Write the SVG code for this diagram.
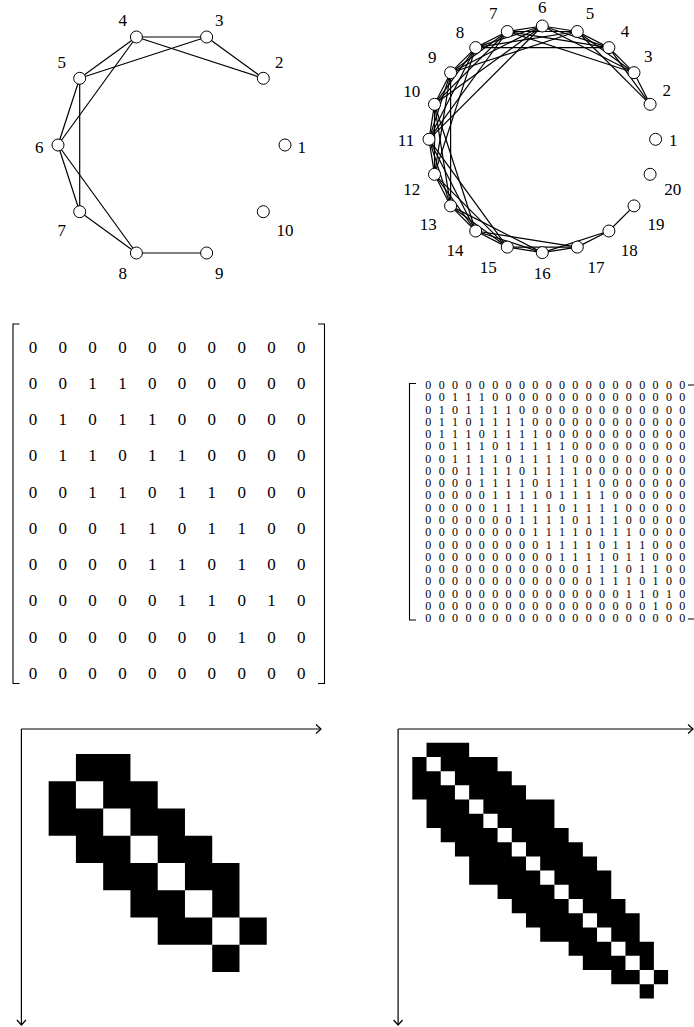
<svg xmlns="http://www.w3.org/2000/svg" width="694" height="1027" viewBox="0 0 694 1027">
<defs>
<style>
.e line{stroke:#000;stroke-width:1.2;fill:none}
.n circle{fill:#fff;stroke:#000;stroke-width:1}
.lbl,.mA,.mB{font-family:"Liberation Serif","DejaVu Serif","Times New Roman",serif;fill:#000}
.lbl{font-size:17px;text-anchor:middle}
.mA{font-size:17px;letter-spacing:8.53px}
.mB{font-size:12px;letter-spacing:2.185px}
.br{fill:none;stroke:#000;stroke-width:1.1}
.ax{stroke:#000;stroke-width:1.2;fill:none;marker-end:url(#arr)}
.px{fill:#000;fill-rule:evenodd;stroke:none}
</style>
<marker id="arr" markerUnits="userSpaceOnUse" markerWidth="12" markerHeight="12" viewBox="-6 -6 12 12" refX="0" refY="0" orient="auto" overflow="visible">
<path d="M-5,-4.5 L0,0 L-5,4.5" fill="none" stroke="#000" stroke-width="1.2"/>
</marker>
</defs>
<rect width="694" height="1027" fill="#fff"/>

<!-- Left graph connectors -->
<g id="edgesA" class="e">
<line x1="263.3" y1="78.3" x2="206.6" y2="37"/>
<line x1="263.3" y1="78.3" x2="136.4" y2="37"/>
<line x1="206.6" y1="37" x2="136.4" y2="37"/>
<line x1="206.6" y1="37" x2="79.7" y2="78.3"/>
<line x1="136.4" y1="37" x2="79.7" y2="78.3"/>
<line x1="136.4" y1="37" x2="58" y2="145"/>
<line x1="79.7" y1="78.3" x2="58" y2="145"/>
<line x1="79.7" y1="78.3" x2="79.7" y2="211.7"/>
<line x1="58" y1="145" x2="79.7" y2="211.7"/>
<line x1="58" y1="145" x2="136.4" y2="253"/>
<line x1="79.7" y1="211.7" x2="136.4" y2="253"/>
<line x1="136.4" y1="253" x2="206.6" y2="253"/>
</g>
<g class="n">
<g id="a1"><circle cx="285" cy="145" r="6"/><text class="lbl" x="301.7" y="152.5">1</text></g>
<g id="a2"><circle cx="263.3" cy="78.3" r="6"/><text class="lbl" x="279.3" y="67.5">2</text></g>
<g id="a3"><circle cx="206.6" cy="37" r="6"/><text class="lbl" x="219.3" y="25.8">3</text></g>
<g id="a4"><circle cx="136.4" cy="37" r="6"/><text class="lbl" x="122.7" y="25.8">4</text></g>
<g id="a5"><circle cx="79.7" cy="78.3" r="6"/><text class="lbl" x="61.7" y="68.1">5</text></g>
<g id="a6"><circle cx="58" cy="145" r="6"/><text class="lbl" x="39.3" y="152.5">6</text></g>
<g id="a7"><circle cx="79.7" cy="211.7" r="6"/><text class="lbl" x="61.7" y="235.8">7</text></g>
<g id="a8"><circle cx="136.4" cy="253" r="6"/><text class="lbl" x="122.7" y="278.5">8</text></g>
<g id="a9"><circle cx="206.6" cy="253" r="6"/><text class="lbl" x="219.3" y="278.5">9</text></g>
<g id="a10"><circle cx="263.3" cy="211.7" r="6"/><text class="lbl" x="285" y="235.8">10</text></g>
</g>

<!-- Right graph connectors -->
<g id="edgesB" class="e">
<line x1="650.1" y1="104.3" x2="634" y2="72.7"/>
<line x1="650.1" y1="104.3" x2="608.9" y2="47.6"/>
<line x1="650.1" y1="104.3" x2="577.3" y2="31.5"/>
<line x1="634" y1="72.7" x2="608.9" y2="47.6"/>
<line x1="634" y1="72.7" x2="577.3" y2="31.5"/>
<line x1="634" y1="72.7" x2="542.3" y2="26"/>
<line x1="634" y1="72.7" x2="507.3" y2="31.5"/>
<line x1="608.9" y1="47.6" x2="577.3" y2="31.5"/>
<line x1="608.9" y1="47.6" x2="542.3" y2="26"/>
<line x1="608.9" y1="47.6" x2="507.3" y2="31.5"/>
<line x1="608.9" y1="47.6" x2="475.7" y2="47.6"/>
<line x1="577.3" y1="31.5" x2="542.3" y2="26"/>
<line x1="577.3" y1="31.5" x2="507.3" y2="31.5"/>
<line x1="577.3" y1="31.5" x2="475.7" y2="47.6"/>
<line x1="577.3" y1="31.5" x2="450.6" y2="72.7"/>
<line x1="542.3" y1="26" x2="507.3" y2="31.5"/>
<line x1="542.3" y1="26" x2="475.7" y2="47.6"/>
<line x1="542.3" y1="26" x2="450.6" y2="72.7"/>
<line x1="542.3" y1="26" x2="434.5" y2="104.3"/>
<line x1="542.3" y1="26" x2="429" y2="139.3"/>
<line x1="507.3" y1="31.5" x2="475.7" y2="47.6"/>
<line x1="507.3" y1="31.5" x2="450.6" y2="72.7"/>
<line x1="507.3" y1="31.5" x2="434.5" y2="104.3"/>
<line x1="507.3" y1="31.5" x2="429" y2="139.3"/>
<line x1="475.7" y1="47.6" x2="450.6" y2="72.7"/>
<line x1="475.7" y1="47.6" x2="434.5" y2="104.3"/>
<line x1="475.7" y1="47.6" x2="429" y2="139.3"/>
<line x1="475.7" y1="47.6" x2="434.5" y2="174.3"/>
<line x1="450.6" y1="72.7" x2="434.5" y2="104.3"/>
<line x1="450.6" y1="72.7" x2="429" y2="139.3"/>
<line x1="450.6" y1="72.7" x2="434.5" y2="174.3"/>
<line x1="450.6" y1="72.7" x2="450.6" y2="205.9"/>
<line x1="434.5" y1="104.3" x2="429" y2="139.3"/>
<line x1="434.5" y1="104.3" x2="434.5" y2="174.3"/>
<line x1="434.5" y1="104.3" x2="450.6" y2="205.9"/>
<line x1="434.5" y1="104.3" x2="475.7" y2="231"/>
<line x1="429" y1="139.3" x2="434.5" y2="174.3"/>
<line x1="429" y1="139.3" x2="450.6" y2="205.9"/>
<line x1="429" y1="139.3" x2="475.7" y2="231"/>
<line x1="429" y1="139.3" x2="507.3" y2="247.1"/>
<line x1="434.5" y1="174.3" x2="450.6" y2="205.9"/>
<line x1="434.5" y1="174.3" x2="475.7" y2="231"/>
<line x1="434.5" y1="174.3" x2="507.3" y2="247.1"/>
<line x1="450.6" y1="205.9" x2="475.7" y2="231"/>
<line x1="450.6" y1="205.9" x2="507.3" y2="247.1"/>
<line x1="450.6" y1="205.9" x2="542.3" y2="252.6"/>
<line x1="475.7" y1="231" x2="507.3" y2="247.1"/>
<line x1="475.7" y1="231" x2="542.3" y2="252.6"/>
<line x1="475.7" y1="231" x2="577.3" y2="247.1"/>
<line x1="507.3" y1="247.1" x2="542.3" y2="252.6"/>
<line x1="507.3" y1="247.1" x2="577.3" y2="247.1"/>
<line x1="542.3" y1="252.6" x2="577.3" y2="247.1"/>
<line x1="542.3" y1="252.6" x2="608.9" y2="231"/>
<line x1="577.3" y1="247.1" x2="608.9" y2="231"/>
<line x1="608.9" y1="231" x2="634" y2="205.9"/>
</g>
<g class="n">
<g id="b1"><circle cx="655.6" cy="139.3" r="6"/><text class="lbl" x="673.3" y="145.8">1</text></g>
<g id="b2"><circle cx="650.1" cy="104.3" r="6"/><text class="lbl" x="666.7" y="95.8">2</text></g>
<g id="b3"><circle cx="634" cy="72.7" r="6"/><text class="lbl" x="648.3" y="61.8">3</text></g>
<g id="b4"><circle cx="608.9" cy="47.6" r="6"/><text class="lbl" x="625" y="36.5">4</text></g>
<g id="b5"><circle cx="577.3" cy="31.5" r="6"/><text class="lbl" x="590" y="18.5">5</text></g>
<g id="b6"><circle cx="542.3" cy="26" r="6"/><text class="lbl" x="542.3" y="13.1">6</text></g>
<g id="b7"><circle cx="507.3" cy="31.5" r="6"/><text class="lbl" x="493.3" y="19.1">7</text></g>
<g id="b8"><circle cx="475.7" cy="47.6" r="6"/><text class="lbl" x="460" y="37.5">8</text></g>
<g id="b9"><circle cx="450.6" cy="72.7" r="6"/><text class="lbl" x="432.3" y="62.5">9</text></g>
<g id="b10"><circle cx="434.5" cy="104.3" r="6"/><text class="lbl" x="411.7" y="96.5">10</text></g>
<g id="b11"><circle cx="429" cy="139.3" r="6"/><text class="lbl" x="406" y="145.8">11</text></g>
<g id="b12"><circle cx="434.5" cy="174.3" r="6"/><text class="lbl" x="411.7" y="195.1">12</text></g>
<g id="b13"><circle cx="450.6" cy="205.9" r="6"/><text class="lbl" x="428.3" y="229.8">13</text></g>
<g id="b14"><circle cx="475.7" cy="231" r="6"/><text class="lbl" x="455" y="255.8">14</text></g>
<g id="b15"><circle cx="507.3" cy="247.1" r="6"/><text class="lbl" x="488.3" y="272.5">15</text></g>
<g id="b16"><circle cx="542.3" cy="252.6" r="6"/><text class="lbl" x="542.3" y="279.1">16</text></g>
<g id="b17"><circle cx="577.3" cy="247.1" r="6"/><text class="lbl" x="596" y="272.5">17</text></g>
<g id="b18"><circle cx="608.9" cy="231" r="6"/><text class="lbl" x="629.3" y="255.8">18</text></g>
<g id="b19"><circle cx="634" cy="205.9" r="6"/><text class="lbl" x="656" y="229.8">19</text></g>
<g id="b20"><circle cx="650.1" cy="174.3" r="6"/><text class="lbl" x="672.7" y="195.1">20</text></g>
</g>

<!-- Left matrix -->
<g id="matrixA">
<path class="br" d="M19.5,324 H13 V683.5 H19.5"/>
<path class="br" d="M318,324 H324.5 V683.5 H318"/>
<text class="mA" x="28.75" y="352.5">0 0 0 0 0 0 0 0 0 0</text>
<text class="mA" x="28.75" y="388.8">0 0 1 1 0 0 0 0 0 0</text>
<text class="mA" x="28.75" y="425">0 1 0 1 1 0 0 0 0 0</text>
<text class="mA" x="28.75" y="461.3">0 1 1 0 1 1 0 0 0 0</text>
<text class="mA" x="28.75" y="497.5">0 0 1 1 0 1 1 0 0 0</text>
<text class="mA" x="28.75" y="533.8">0 0 0 1 1 0 1 1 0 0</text>
<text class="mA" x="28.75" y="570.1">0 0 0 0 1 1 0 1 0 0</text>
<text class="mA" x="28.75" y="606.3">0 0 0 0 0 1 1 0 1 0</text>
<text class="mA" x="28.75" y="642.6">0 0 0 0 0 0 0 1 0 0</text>
<text class="mA" x="28.75" y="678.8">0 0 0 0 0 0 0 0 0 0</text>
</g>

<!-- Right matrix -->
<g id="matrixB">
<path class="br" d="M416,383.5 H409.5 V620 H416"/>
<path class="br" d="M688,385 H694 M688,619 H694"/>
<text class="mB" x="425.3" y="389.1">0 0 0 0 0 0 0 0 0 0 0 0 0 0 0 0 0 0 0 0</text>
<text class="mB" x="425.3" y="401.4">0 0 1 1 1 0 0 0 0 0 0 0 0 0 0 0 0 0 0 0</text>
<text class="mB" x="425.3" y="413.6">0 1 0 1 1 1 1 0 0 0 0 0 0 0 0 0 0 0 0 0</text>
<text class="mB" x="425.3" y="425.9">0 1 1 0 1 1 1 1 0 0 0 0 0 0 0 0 0 0 0 0</text>
<text class="mB" x="425.3" y="438.1">0 1 1 1 0 1 1 1 1 0 0 0 0 0 0 0 0 0 0 0</text>
<text class="mB" x="425.3" y="450.4">0 0 1 1 1 0 1 1 1 1 1 0 0 0 0 0 0 0 0 0</text>
<text class="mB" x="425.3" y="462.7">0 0 1 1 1 1 0 1 1 1 1 0 0 0 0 0 0 0 0 0</text>
<text class="mB" x="425.3" y="474.9">0 0 0 1 1 1 1 0 1 1 1 1 0 0 0 0 0 0 0 0</text>
<text class="mB" x="425.3" y="487.2">0 0 0 0 1 1 1 1 0 1 1 1 1 0 0 0 0 0 0 0</text>
<text class="mB" x="425.3" y="499.4">0 0 0 0 0 1 1 1 1 0 1 1 1 1 0 0 0 0 0 0</text>
<text class="mB" x="425.3" y="511.7">0 0 0 0 0 1 1 1 1 1 0 1 1 1 1 0 0 0 0 0</text>
<text class="mB" x="425.3" y="524">0 0 0 0 0 0 0 1 1 1 1 0 1 1 1 0 0 0 0 0</text>
<text class="mB" x="425.3" y="536.2">0 0 0 0 0 0 0 0 1 1 1 1 0 1 1 1 0 0 0 0</text>
<text class="mB" x="425.3" y="548.5">0 0 0 0 0 0 0 0 0 1 1 1 1 0 1 1 1 0 0 0</text>
<text class="mB" x="425.3" y="560.7">0 0 0 0 0 0 0 0 0 0 1 1 1 1 0 1 1 0 0 0</text>
<text class="mB" x="425.3" y="573">0 0 0 0 0 0 0 0 0 0 0 0 1 1 1 0 1 1 0 0</text>
<text class="mB" x="425.3" y="585.3">0 0 0 0 0 0 0 0 0 0 0 0 0 1 1 1 0 1 0 0</text>
<text class="mB" x="425.3" y="597.5">0 0 0 0 0 0 0 0 0 0 0 0 0 0 0 1 1 0 1 0</text>
<text class="mB" x="425.3" y="609.8">0 0 0 0 0 0 0 0 0 0 0 0 0 0 0 0 0 1 0 0</text>
<text class="mB" x="425.3" y="622">0 0 0 0 0 0 0 0 0 0 0 0 0 0 0 0 0 0 0 0</text>
</g>

<!-- Left pixel plot -->
<g id="plotA">
<path class="px" transform="translate(21.4,726.7) scale(27.26)" d="M2,1 H4 V2 H5 V3 H6 V4 H7 V5 H8 V7 H9 V8 H8 V9 H7 V8 H5 V7 H4 V6 H3 V5 H2 V4 H1 V2 H2 Z M2,2 h1 v1 h-1 Z M3,3 h1 v1 h-1 Z M4,4 h1 v1 h-1 Z M5,5 h1 v1 h-1 Z M6,6 h1 v1 h-1 Z M7,7 h1 v1 h-1 Z"/>
<path class="ax" d="M21.4,729 H321"/>
<path class="ax" d="M21.4,729 V1025"/>
</g>

<!-- Right pixel plot -->
<g id="plotB">
<path class="px" transform="translate(398.1,728.5) scale(14.21)" d="M2,1 H5 V2 H7 V3 H8 V4 H9 V5 H11 V7 H12 V8 H13 V9 H14 V10 H15 V12 H16 V13 H17 V15 H18 V17 H19 V18 H18 V19 H17 V18 H15 V17 H13 V16 H12 V15 H10 V14 H9 V13 H8 V12 H7 V11 H5 V9 H4 V8 H3 V7 H2 V5 H1 V2 H2 Z M2,2 h1 v1 h-1 Z M3,3 h1 v1 h-1 Z M4,4 h1 v1 h-1 Z M5,5 h1 v1 h-1 Z M6,6 h1 v1 h-1 Z M7,7 h1 v1 h-1 Z M8,8 h1 v1 h-1 Z M9,9 h1 v1 h-1 Z M10,10 h1 v1 h-1 Z M11,11 h1 v1 h-1 Z M12,12 h1 v1 h-1 Z M13,13 h1 v1 h-1 Z M14,14 h1 v1 h-1 Z M15,15 h1 v1 h-1 Z M16,16 h1 v1 h-1 Z M17,17 h1 v1 h-1 Z"/>
<path class="ax" d="M398.1,729 H693"/>
<path class="ax" d="M398.1,729 V1025"/>
</g>
</svg>
